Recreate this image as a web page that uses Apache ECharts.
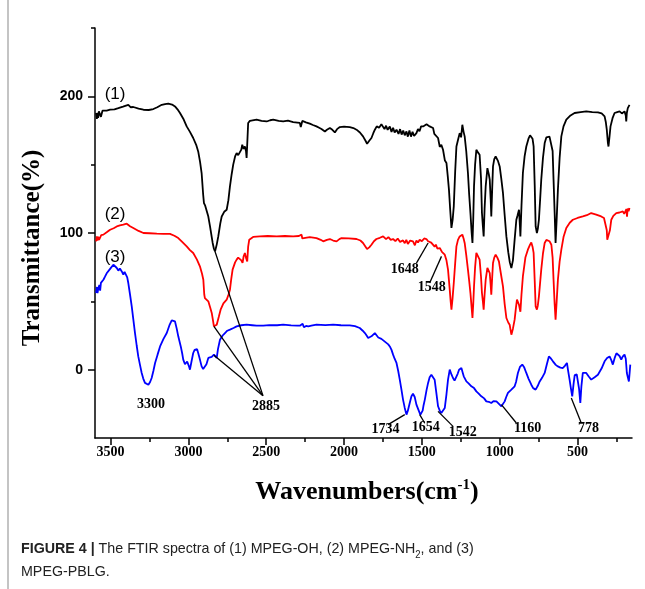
<!DOCTYPE html>
<html>
<head>
<meta charset="utf-8">
<script src="https://cdn.jsdelivr.net/npm/echarts@6/dist/echarts.min.js"></script>
<style>
  html, body { margin: 0; padding: 0; background: #fff; }
  #chart { width: 645px; height: 589px; }
</style>
</head>
<body>
<div id="chart"></div>
<script>
// tick labels
var xMajor = [3500, 3000, 2500, 2000, 1500, 1000, 500];
var xMinor = [3250, 2750, 2250, 1750, 1250, 750, 250];
var yMajor = [0, 100, 200];
var yMinor = [50, 150, 250];

// (1) MPEG-OH
var wn1 = [3593,3588,3584,3580,3575,3567,3562,3558,3552,3546,3525,3503,3475,3450,3420,3386,3370,3354,3320,3289,3255,3225,3200,3171,3150,3129,3105,3086,3070,3054,3030,3011,2990,2969,2950,2937,2925,2915,2905,2900,2892,2883,2872,2861,2850,2844,2836,2829,2818,2808,2795,2786,2770,2754,2743,2733,2722,2712,2700,2690,2680,2669,2660,2654,2645,2637,2630,2626,2620,2616,2605,2594,2562,2530,2497,2475,2455,2420,2391,2360,2327,2300,2284,2278,2273,2268,2263,2245,2220,2200,2177,2160,2145,2123,2110,2091,2075,2059,2045,2027,2000,1963,1940,1920,1898,1878,1862,1852,1838,1824,1812,1802,1790,1775,1760,1749,1740,1730,1720,1706,1695,1685,1675,1663,1650,1640,1630,1620,1610,1599,1590,1580,1570,1560,1550,1535,1525,1515,1505,1492,1480,1470,1460,1450,1440,1428,1420,1410,1396,1385,1375,1364,1352,1342,1334,1326,1318,1310,1302,1295,1286,1278,1268,1257,1248,1240,1232,1225,1215,1204,1196,1188,1180,1175,1170,1165,1158,1150,1140,1129,1120,1114,1108,1103,1097,1090,1079,1070,1064,1058,1054,1048,1043,1035,1026,1012,1000,990,979,968,957,945,935,925,915,904,893,885,876,870,867,860,851,840,829,815,805,797,789,782,775,769,761,755,748,740,733,722,711,700,690,680,668,660,654,647,641,634,626,615,604,590,572,545,519,480,444,405,369,345,326,318,312,305,301,295,288,275,262,245,230,215,198,190,187,183,177,170,166];
var t1 = [187.8,183.5,188.0,184.3,189.0,188.7,185.0,185.1,189.5,189.0,189.5,190.2,190.5,191.4,192.5,193.8,192.0,192.2,191.0,190.2,190.0,190.7,192.0,193.8,194.3,194.6,194.0,192.6,190.5,187.8,183.0,178.0,174.0,169.5,164.5,159.7,152.0,143.9,128.0,121.9,120.0,119.5,112.0,104.8,97.0,92.7,88.5,86.5,91.5,97.5,107.0,112.1,115.5,117.0,124.0,134.1,143.0,150.0,156.0,158.5,157.0,156.0,161.0,164.6,161.5,163.3,160.0,154.9,170.0,180.5,182.0,182.9,182.9,182.0,181.6,182.5,182.9,182.0,181.6,182.2,181.2,180.8,180.5,177.5,178.0,182.0,182.4,181.0,180.0,179.0,178.0,177.0,176.1,174.3,175.5,176.8,175.5,173.6,176.0,177.5,177.8,177.5,176.8,175.6,173.5,170.7,167.5,165.3,167.5,169.5,173.0,175.6,178.0,177.0,179.5,179.2,176.0,178.5,175.5,178.0,174.0,177.0,173.5,175.6,172.5,176.0,172.0,175.0,171.5,174.3,170.5,175.0,170.5,174.0,171.0,173.1,176.0,174.5,178.0,178.0,177.0,179.5,180.5,178.0,177.5,176.8,172.5,172.0,169.5,163.0,164.5,160.9,153.0,151.2,142.0,131.7,117.0,103.7,110.0,119.5,145.0,163.3,168.0,173.1,170.0,179.2,174.0,170.7,160.0,143.9,128.0,114.6,100.0,92.7,110.0,134.1,150.0,160.9,159.0,157.3,140.0,114.6,105.0,97.5,118.0,134.1,147.5,143.0,139.0,125.0,112.1,133.0,148.7,154.0,156.0,153.0,148.7,140.0,129.3,113.0,97.5,86.0,78.5,74.4,80.0,95.1,109.7,113.0,117.0,105.0,97.5,120.0,143.9,156.0,163.3,169.0,171.5,171.9,169.0,163.3,135.0,104.8,100.0,103.0,109.7,125.0,139.0,155.0,165.8,170.0,171.2,170.5,169.5,160.0,139.0,115.0,92.7,110.0,131.7,155.0,170.7,178.0,182.9,186.0,187.8,188.5,189.0,188.5,188.2,187.5,185.3,181.0,175.6,166.0,163.3,170.0,178.0,184.0,187.8,188.5,189.0,187.5,189.0,186.0,181.6,188.0,191.4,190.0,193.8];

// (2) MPEG-NH2
var wn2 = [3593,3588,3584,3580,3574,3567,3560,3546,3525,3503,3480,3460,3440,3418,3396,3375,3354,3320,3289,3250,3203,3160,3118,3090,3065,3040,3011,2990,2969,2945,2926,2912,2904,2898,2894,2885,2872,2860,2850,2842,2836,2828,2818,2805,2793,2775,2754,2742,2733,2725,2716,2700,2690,2680,2669,2660,2652,2645,2637,2630,2622,2616,2609,2584,2541,2490,2433,2380,2327,2290,2273,2268,2263,2220,2177,2150,2134,2110,2091,2070,2048,2030,2016,1970,1920,1895,1878,1862,1852,1838,1824,1808,1792,1770,1749,1730,1715,1700,1685,1670,1655,1640,1621,1610,1600,1590,1575,1557,1545,1535,1525,1514,1500,1485,1471,1460,1450,1440,1428,1418,1410,1400,1385,1370,1353,1342,1332,1322,1315,1310,1303,1295,1286,1278,1268,1257,1240,1232,1225,1215,1204,1196,1188,1180,1175,1170,1165,1158,1150,1140,1129,1120,1114,1108,1103,1097,1090,1079,1070,1064,1058,1054,1048,1043,1035,1026,1015,1005,992,979,968,957,945,936,930,925,915,904,895,889,882,876,870,867,860,851,835,819,805,797,789,782,775,769,761,755,748,740,733,722,711,700,690,680,668,660,654,647,641,634,626,615,604,590,572,550,530,500,466,440,412,380,348,330,320,312,309,303,299,292,283,270,251,230,209,200,191,186,182,178,172,166];
var t2 = [93.9,97.5,94.5,97.3,95.0,95.1,98.5,98.8,100.5,102.4,103.5,104.8,105.5,106.1,106.8,105.0,103.7,101.5,100.0,99.8,99.5,99.4,99.3,98.0,96.3,93.5,90.2,87.5,85.4,80.5,75.6,70.0,65.8,55.0,52.4,51.5,50.0,45.5,41.5,36.0,31.7,31.5,32.9,38.5,43.9,48.5,51.2,55.0,58.5,66.0,73.2,78.5,80.5,82.0,82.9,80.0,78.1,83.0,85.4,82.0,79.2,90.0,95.1,97.1,97.5,97.8,97.5,97.8,97.5,97.8,98.8,96.0,96.3,97.0,96.3,95.0,93.9,95.0,95.6,94.5,93.9,95.5,96.3,96.0,95.6,94.5,92.7,90.0,88.3,89.5,91.4,94.0,95.6,96.5,97.5,95.5,97.0,95.0,95.6,94.0,96.0,93.5,94.6,92.5,95.0,92.0,94.5,93.9,91.0,94.5,93.0,95.1,94.0,96.0,95.6,94.0,95.0,93.0,92.7,90.0,91.5,88.5,89.0,86.0,84.1,80.0,73.2,60.0,50.0,43.9,52.0,63.4,78.0,90.2,95.0,97.5,98.8,96.0,92.7,84.0,73.2,65.0,56.1,45.0,37.8,48.0,60.9,75.0,85.4,84.0,80.5,68.0,56.1,50.0,43.9,55.0,65.8,74.4,73.0,70.7,62.0,54.9,68.0,78.1,82.0,84.1,82.0,79.2,70.0,60.9,48.0,37.8,34.5,32.9,29.0,25.6,30.0,36.6,46.0,51.2,50.0,47.5,44.0,42.4,55.0,68.2,82.0,87.8,91.5,93.1,90.0,85.4,65.0,46.3,43.9,47.0,53.6,64.0,73.2,85.0,92.7,95.0,95.6,94.0,91.4,82.0,65.8,48.0,36.6,50.0,65.8,79.0,87.8,97.0,103.7,107.5,109.7,111.0,112.1,113.0,114.6,113.5,112.1,111.0,109.7,102.0,95.1,94.5,93.9,102.0,109.7,112.5,114.6,115.0,115.8,114.0,114.1,117.5,112.0,117.8,116.0,118.3];

// (3) MPEG-PBLG
var wn3 = [3593,3588,3584,3578,3572,3567,3562,3556,3545,3535,3525,3514,3498,3482,3470,3460,3450,3440,3428,3418,3410,3401,3393,3386,3375,3364,3354,3343,3332,3322,3310,3300,3290,3279,3268,3257,3246,3236,3225,3214,3198,3182,3160,3139,3120,3107,3096,3086,3075,3065,3049,3040,3033,3022,3015,3008,3001,2995,2990,2980,2969,2960,2951,2944,2937,2925,2915,2905,2894,2884,2872,2860,2850,2843,2836,2828,2818,2810,2797,2780,2765,2750,2733,2710,2690,2660,2626,2590,2562,2519,2480,2430,2391,2340,2300,2284,2272,2266,2258,2252,2244,2236,2230,2210,2177,2120,2070,2020,1963,1930,1899,1880,1866,1855,1845,1835,1824,1812,1802,1790,1780,1770,1760,1749,1738,1727,1716,1706,1695,1685,1675,1663,1652,1642,1632,1621,1610,1599,1590,1578,1567,1557,1546,1535,1520,1510,1503,1495,1489,1481,1470,1460,1450,1439,1428,1418,1408,1396,1385,1375,1364,1353,1342,1332,1321,1310,1300,1290,1278,1270,1261,1254,1246,1238,1231,1222,1214,1200,1182,1165,1150,1135,1118,1100,1086,1070,1054,1040,1021,1005,989,980,968,958,947,935,925,915,904,895,883,870,855,842,829,815,797,785,769,756,743,728,711,697,684,670,658,640,626,610,594,580,568,560,551,542,534,525,518,512,505,498,490,482,475,466,455,444,428,412,390,369,345,326,310,294,283,273,260,250,241,230,219,210,198,190,183,176,170,165,161];
var t3 = [56.1,60.5,56.0,59.8,62.0,57.8,63.5,64.6,66.0,68.2,70.5,71.9,74.5,76.8,76.0,74.4,72.5,74.0,71.9,69.5,71.5,70.7,67.5,63.4,55.0,46.3,37.0,26.8,17.5,9.7,3.0,-2.4,-6.5,-9.7,-11.0,-11.0,-9.0,-6.1,-1.0,4.9,11.0,17.0,22.5,26.8,33.0,36.1,36.0,35.3,30.0,24.4,17.0,12.0,7.3,4.0,3.7,6.0,4.9,2.0,0.0,6.0,12.2,14.5,15.9,15.0,12.2,7.0,2.4,0.5,0.0,4.0,8.6,9.0,9.3,10.5,11.0,10.0,8.6,15.0,21.9,25.0,26.8,28.5,29.3,30.5,31.7,32.5,32.9,32.5,32.2,32.2,32.6,32.5,32.9,32.4,32.2,32.2,33.0,33.6,31.0,30.5,32.0,30.8,31.7,32.2,32.9,32.6,32.9,32.5,32.4,31.8,30.5,28.5,26.8,25.0,23.2,24.0,24.4,25.5,26.8,25.0,23.5,23.2,22.5,21.9,20.5,19.5,18.5,17.0,14.5,11.0,8.0,4.9,-1.0,-7.3,-14.0,-21.9,-28.0,-32.9,-30.0,-24.4,-19.5,-17.6,-20.0,-25.6,-30.0,-33.0,-34.2,-30.0,-26.0,-21.9,-15.0,-9.7,-5.5,-3.7,-4.5,-7.3,-16.0,-26.8,-30.0,-31.7,-30.5,-28.1,-18.0,-7.3,0.0,-3.5,-6.1,-8.0,-7.3,-3.0,0.0,0.5,1.2,-2.0,-4.9,-6.0,-8.6,-10.0,-12.2,-13.5,-15.9,-17.5,-19.5,-21.0,-23.2,-23.5,-24.4,-23.0,-23.2,-25.0,-26.8,-25.5,-23.2,-20.0,-17.0,-16.0,-14.6,-13.5,-12.2,-9.0,-2.4,2.0,3.7,1.5,-2.4,-6.5,-11.0,-13.5,-14.6,-12.0,-8.6,-6.0,-2.4,4.0,9.7,8.0,6.1,3.5,2.4,1.5,1.2,3.0,4.9,-1.0,-7.3,-14.0,-19.5,-10.0,-4.0,-3.7,-3.5,-4.9,-14.0,-24.4,-12.0,-2.4,-2.0,-2.4,-5.0,-7.3,-5.5,-3.7,1.0,6.1,8.5,9.7,7.0,3.7,9.0,12.0,12.7,10.0,7.3,9.5,11.0,8.0,-2.4,-6.0,-8.6,-2.0,3.7];

// peak call-outs: label, label position, leader lines
var peakLabels = [
  ['3300', 3240, -25.6], ['2885', 2502, -27.1],
  ['1648', 1610, 73.2], ['1548', 1437, 60.0],
  ['1734', 1733, -43.9], ['1654', 1475, -42.4], ['1542', 1237, -46.1],
  ['1160', 820, -43.2], ['778', 429, -43.2]
];
var leaders = [
  [[2829, 86.5], [2521, -19]],
  [[2836, 31.7], [2521, -19]],
  [[2836, 10.5], [2521, -19]],
  [[1460, 92.7], [1535, 78]],
  [[1374, 82.9], [1450, 63.4]],
  [[1610, -32.9], [1717, -40.2]],
  [[1514, -32.9], [1482, -39.0]],
  [[1396, -30.5], [1300, -41.5]],
  [[989, -25.6], [893, -39.0]],
  [[540, -20.7], [476, -39.0]]
];
var curveTags = [['(1)', 3471, 201.2], ['(2)', 3471, 113.4], ['(3)', 3471, 81.9]];

function pairs(xs, ys) {
  return xs.map(function (x, i) { return [x, ys[i]]; });
}

var chart = echarts.init(document.getElementById('chart'));

var serif = 'Liberation Serif';
var sans = 'Liberation Sans';
var plain = function (v) { return String(v); };

var option = {
  backgroundColor: '#fff',
  animation: false,
  grid: { left: 95, right: 13, top: 28, bottom: 151 },
  xAxis: [{
    type: 'value', inverse: true, min: 150, max: 3600, position: 'bottom',
    axisLine: { show: true, onZero: false, lineStyle: { color: '#000', width: 1.5 } },
    axisTick: { show: true, customValues: xMajor, length: 7, lineStyle: { color: '#000', width: 1.5 } },
    axisLabel: { customValues: xMajor, formatter: plain, color: '#000', fontFamily: serif, fontWeight: 'bold', fontSize: 14, margin: 7 },
    splitLine: { show: false }
  }, {
    type: 'value', inverse: true, min: 150, max: 3600, position: 'bottom',
    axisLine: { show: false, onZero: false },
    axisTick: { show: true, customValues: xMinor, length: 4, lineStyle: { color: '#000', width: 1.5 } },
    axisLabel: { show: false },
    splitLine: { show: false }
  }],
  yAxis: [{
    type: 'value', min: -50, max: 250, position: 'left',
    axisLine: { show: true, onZero: false, lineStyle: { color: '#000', width: 1.5 } },
    axisTick: { show: true, customValues: yMajor, length: 7, lineStyle: { color: '#000', width: 1.5 } },
    axisLabel: { customValues: yMajor, formatter: plain, color: '#000', fontFamily: sans, fontWeight: 'bold', fontSize: 14, margin: 12 },
    splitLine: { show: false }
  }, {
    type: 'value', min: -50, max: 250, position: 'left',
    axisLine: { show: false, onZero: false },
    axisTick: { show: true, customValues: yMinor, length: 4, lineStyle: { color: '#000', width: 1.5 } },
    axisLabel: { show: false },
    splitLine: { show: false }
  }],
  series: [{
    name: '(1)', type: 'line', data: pairs(wn1, t1), showSymbol: false,
    lineStyle: { color: '#000', width: 1.8 }, z: 3
  }, {
    name: '(2)', type: 'line', data: pairs(wn2, t2), showSymbol: false,
    lineStyle: { color: '#ff0000', width: 1.8 }, z: 3
  }, {
    name: '(3)', type: 'line', data: pairs(wn3, t3), showSymbol: false,
    lineStyle: { color: '#0000ff', width: 1.8 }, z: 3,
    markLine: {
      silent: true, symbol: ['none', 'none'],
      lineStyle: { color: '#000', width: 1.3, type: 'solid' },
      label: { show: false },
      data: leaders.map(function (l) { return [{ coord: l[0] }, { coord: l[1] }]; })
    }
  }, {
    name: 'peaks', type: 'scatter', symbolSize: 0, z: 5,
    itemStyle: { opacity: 1 },
    data: peakLabels.map(function (p) { return { value: [p[1], p[2]], name: p[0] }; }),
    label: {
      show: true, position: 'inside', formatter: '{b}', textBorderWidth: 0,
      color: '#000', fontFamily: serif, fontWeight: 'bold', fontSize: 14
    }
  }, {
    name: 'tags', type: 'scatter', symbolSize: 0, z: 5,
    itemStyle: { opacity: 1 },
    data: curveTags.map(function (p) { return { value: [p[1], p[2]], name: p[0] }; }),
    label: {
      show: true, position: 'inside', formatter: '{b}', textBorderWidth: 0,
      color: '#000', fontFamily: sans, fontSize: 17
    }
  }],
  graphic: [{
    type: 'rect', left: 7, top: 0,
    shape: { width: 2, height: 589 },
    style: { fill: '#c4c4c4' }
  }, {
    type: 'text', x: 33, y: 248, rotation: Math.PI / 2,
    style: {
      text: 'Transmittance(%)', fill: '#000', font: 'bold 25px "Liberation Serif"',
      align: 'center', verticalAlign: 'middle'
    }
  }, {
    type: 'text', x: 367, y: 490,
    style: {
      text: '{a|Wavenumbers(cm}{s|-1}{a|)}', align: 'center', verticalAlign: 'middle',
      rich: {
        a: { fontFamily: serif, fontWeight: 'bold', fontSize: 26, fill: '#000', lineHeight: 30, verticalAlign: 'bottom' },
        s: { fontFamily: serif, fontWeight: 'bold', fontSize: 15, fill: '#000', lineHeight: 30, verticalAlign: 'top', padding: [3, 0, 0, 0] }
      }
    }
  }, {
    type: 'text', x: 21, y: 537, scaleX: 0.95,
    style: {
      text: '{b|FIGURE 4 |}{n| The FTIR spectra of (1) MPEG-OH, (2) MPEG-NH}{s|2}{n|, and (3)}\n{n|MPEG-PBLG.}',
      rich: {
        b: { fontFamily: sans, fontWeight: 'bold', fontSize: 15, fill: '#222', lineHeight: 23 },
        n: { fontFamily: sans, fontSize: 15, fill: '#222', lineHeight: 23 },
        s: { fontFamily: sans, fontSize: 10, fill: '#222', lineHeight: 23, verticalAlign: 'bottom', padding: [0, 0, 0, 0] }
      }
    }
  }]
};

chart.setOption(option);
</script>
</body>
</html>
